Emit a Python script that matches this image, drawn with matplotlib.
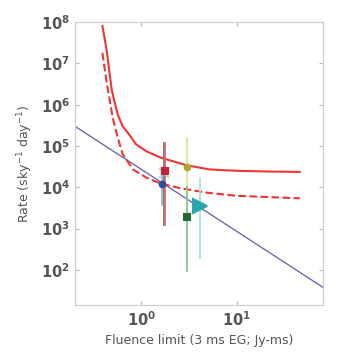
import numpy as np
import matplotlib
matplotlib.use("Agg")
import matplotlib.pyplot as plt

# Rate curves
solid_fluence = [0.389, 0.431, 0.487, 0.52, 0.563, 0.635, 0.718, 0.877, 1.13, 1.6,
                 2.98, 5.2, 10, 22, 46]
solid_rate = [8.0e7, 2.1e7, 2.3e6, 1.2e6, 5.8e5, 3.0e5, 2.1e5, 1.1e5, 7.4e4, 5.2e4,
              3.4e4, 2.7e4, 2.5e4, 2.4e4, 2.35e4]

dashed_fluence = [0.389, 0.435, 0.46, 0.499, 0.563, 0.635, 0.816, 1.13, 1.56, 2.53,
                  4.83, 10, 46]
dashed_rate = [1.8e7, 3.0e6, 1.45e6, 4.8e5, 1.6e5, 6.3e4, 2.7e4, 1.7e4, 1.25e4, 9.5e3,
               7.4e3, 6.2e3, 5.4e3]

line_fluence = [0.2, 80]
line_rate = [3.0e5, 3.8e1]

# Measured points: fluence, rate, lower, upper
pt_fluence = [1.71, 1.78, 1.66, 2.98, 2.98, 4.1]
pt_rate = [2.2e4, 2.45e4, 1.17e4, 3.1e4, 1.9e3, 3.5e3]
pt_low = [1.2e3, 1.2e3, 3.8e3, 8.9e3, 95, 190]
pt_high = [1.2e5, 1.2e5, 2.2e4, 1.6e5, 1.0e4, 1.7e4]

pt_marker = ["x", "s", "o", "o", "s", ">"]
pt_msize = [7, 4, 4, 4, 4, 10]
pt_mcolor = ["#a8dce8", "#c8203a", "#2b4f9e", "#b0a832", "#236b35", "#2aa6ad"]
pt_lcolor = ["#5f7676", "#e06a6a", "#9fb0d8", "#e3e39a", "#8cc48c", "#a5e2e2"]

fig = plt.figure(figsize=(3.55, 3.56), dpi=100)
ax = fig.add_axes([0.211, 0.143, 0.698, 0.795])

ax.loglog(line_fluence, line_rate, color="#6a6ab8", lw=1.0)
ax.loglog(solid_fluence, solid_rate, color="#f03535", lw=1.5)
ax.loglog(dashed_fluence, dashed_rate, color="#f03535", lw=1.5, ls="--")

for i in range(len(pt_fluence)):
    ax.plot([pt_fluence[i], pt_fluence[i]], [pt_low[i], pt_high[i]],
            color=pt_lcolor[i], lw=1.3, zorder=3)
    ax.plot(pt_fluence[i], pt_rate[i], marker=pt_marker[i], ms=pt_msize[i],
            color=pt_mcolor[i], mew=1.5, ls="none", zorder=4)

ax.set_xlim(0.2, 80)
ax.set_ylim(14, 1e8)
ax.set_yticks([1e2, 1e3, 1e4, 1e5, 1e6, 1e7, 1e8])
ax.set_xticks([1, 10])
ax.minorticks_off()

for s in ax.spines.values():
    s.set_color("#cccccc")
ax.tick_params(direction="in", top=True, right=True, color="#bbbbbb",
               length=3, labelcolor="#555555", labelsize=10.5)
for lab in ax.get_xticklabels() + ax.get_yticklabels():
    lab.set_fontweight("bold")

ax.set_xlabel("Fluence limit (3 ms EG; Jy-ms)", fontsize=9, color="#555555")
ax.set_ylabel("Rate (sky$^{-1}$ day$^{-1}$)", fontsize=9, color="#555555")

fig.savefig("out.png", dpi=100)
